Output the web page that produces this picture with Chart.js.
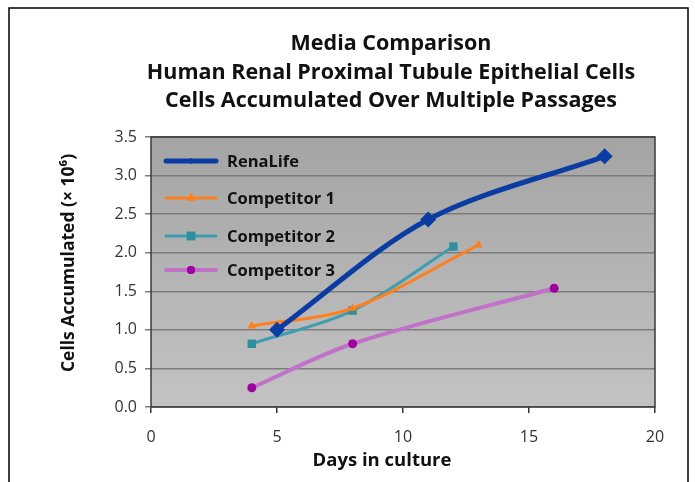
<!DOCTYPE html>
<html>
<head>
<meta charset="utf-8">
<script src="https://cdn.jsdelivr.net/npm/chart.js@4.4.1/dist/chart.umd.min.js"></script>
<style>
  html, body { margin: 0; padding: 0; background: #fff; }
  #wrap { width: 695px; height: 482px; position: relative; }
</style>
</head>
<body>
<div id="wrap"><canvas id="chart" width="695" height="482"></canvas></div>
<script>
// values
const titleLines = ['Media Comparison', 'Human Renal Proximal Tubule Epithelial Cells', 'Cells Accumulated Over Multiple Passages'];
const seriesNames = ['RenaLife', 'Competitor 1', 'Competitor 2', 'Competitor 3'];
const renaDays = [5, 11, 18];
const renaCells = [1.0, 2.43, 3.25];
const comp1Days = [4, 8, 13];
const comp1Cells = [1.05, 1.28, 2.1];
const comp2Days = [4, 8, 12];
const comp2Cells = [0.82, 1.25, 2.08];
const comp3Days = [4, 8, 16];
const comp3Cells = [0.25, 0.82, 1.54];
const xTicks = [0, 5, 10, 15, 20];
const yTicks = [0, 0.5, 1, 1.5, 2, 2.5, 3, 3.5];

const FONT = '"Open Sans", "DejaVu Sans", sans-serif';

function pts(days, cells) {
    return days.map(function (d, i) { return { x: d, y: cells[i] }; });
}

// gradient plot background + frame + outer border
const plotFrame = {
    id: 'plotFrame',
    beforeDraw: function (chart) {
        const ctx = chart.ctx;
        const a = chart.chartArea;
        ctx.save();
        ctx.fillStyle = '#fff';
        ctx.fillRect(0, 0, chart.width, chart.height);
        ctx.strokeStyle = '#000';
        ctx.lineWidth = 1.5;
        ctx.beginPath();
        ctx.moveTo(9, 490);
        ctx.lineTo(9, 8);
        ctx.lineTo(688, 8);
        ctx.lineTo(688, 490);
        ctx.stroke();
        const g = ctx.createLinearGradient(0, a.top, 0, a.bottom);
        g.addColorStop(0, '#a4a4a4');
        g.addColorStop(1, '#c3c3c3');
        ctx.fillStyle = g;
        ctx.fillRect(a.left, a.top, a.right - a.left, a.bottom - a.top);
        ctx.restore();
    },
    afterDatasetsDraw: function (chart) {
        const ctx = chart.ctx;
        const a = chart.chartArea;
        ctx.save();
        ctx.strokeStyle = '#3a3a3a';
        ctx.lineWidth = 1.5;
        ctx.strokeRect(a.left, a.top, a.right - a.left, a.bottom - a.top);
        ctx.restore();
    }
};

// legend inside the plot, line + marker like the original
const innerLegend = {
    id: 'innerLegend',
    afterDraw: function (chart) {
        const ctx = chart.ctx;
        const rows = [161, 198, 236, 270];
        ctx.save();
        chart.data.datasets.forEach(function (ds, i) {
            const y = rows[i];
            ctx.strokeStyle = ds.borderColor;
            ctx.lineWidth = ds.borderWidth;
            ctx.lineCap = 'round';
            ctx.beginPath();
            ctx.moveTo(166, y);
            ctx.lineTo(216, y);
            ctx.stroke();
            ctx.fillStyle = ds.pointBackgroundColor;
            ctx.beginPath();
            Chart.helpers.drawPoint(ctx, {
                pointStyle: ds.pointStyle,
                radius: ds.legendRadius,
                borderWidth: 0
            }, 191, y);
            ctx.fill();
            ctx.fillStyle = '#111';
            ctx.font = 'bold 16.5px ' + FONT;
            ctx.textBaseline = 'middle';
            ctx.fillText(ds.label, 227, y + 1);
        });
        ctx.restore();
    }
};

// chart title and axis titles
const titles = {
    id: 'titles',
    afterDraw: function (chart) {
        const ctx = chart.ctx;
        ctx.save();
        ctx.fillStyle = '#111';
        ctx.textAlign = 'center';
        ctx.textBaseline = 'middle';
        ctx.font = 'bold 21.5px ' + FONT;
        const rows = [44, 73, 101];
        titleLines.forEach(function (t, i) { ctx.fillText(t, 391, rows[i]); });
        ctx.font = 'bold 18.5px ' + FONT;
        ctx.fillText('Days in culture', 382, 461);
        ctx.translate(69, 263);
        ctx.rotate(-Math.PI / 2);
        ctx.font = 'bold 17.5px ' + FONT;
        ctx.fillText('Cells Accumulated (× 10⁶)', 0, 0);
        ctx.restore();
    }
};

new Chart(document.getElementById('chart'), {
    type: 'line',
    data: {
        datasets: [{
            label: seriesNames[0],
            data: pts(renaDays, renaCells),
            borderColor: '#0b3ca3',
            borderWidth: 5,
            pointStyle: 'rectRot',
            pointRadius: 8,
            legendRadius: 3,
            pointBackgroundColor: '#0b3ca3',
            pointBorderWidth: 0
        }, {
            label: seriesNames[1],
            data: pts(comp1Days, comp1Cells),
            borderColor: '#ff7f1e',
            borderWidth: 3,
            pointStyle: 'triangle',
            pointRadius: 5,
            legendRadius: 5,
            pointBackgroundColor: '#ff7f1e',
            pointBorderWidth: 0
        }, {
            label: seriesNames[2],
            data: pts(comp2Days, comp2Cells),
            borderColor: '#3e9db0',
            borderWidth: 3,
            pointStyle: 'rect',
            pointRadius: 6,
            legendRadius: 6,
            pointBackgroundColor: '#2f8f9f',
            pointBorderWidth: 0
        }, {
            label: seriesNames[3],
            data: pts(comp3Days, comp3Cells),
            borderColor: '#c271c8',
            borderWidth: 4,
            pointStyle: 'circle',
            pointRadius: 4.5,
            legendRadius: 4,
            pointBackgroundColor: '#a000a0',
            pointBorderWidth: 0
        }]
    },
    options: {
        responsive: false,
        animation: false,
        devicePixelRatio: 1,
        elements: { line: { tension: 0.32 } },
        layout: { padding: { left: 0, right: 40, top: 137, bottom: 0 } },
        plugins: {
            legend: { display: false },
            tooltip: { enabled: false },
            title: { display: false }
        },
        scales: {
            x: {
                type: 'linear',
                min: 0,
                max: 20,
                afterFit: function (scale) { scale.height = 75; },
                afterBuildTicks: function (scale) {
                    scale.ticks = xTicks.map(function (v) { return { value: v }; });
                },
                grid: { drawOnChartArea: false, drawTicks: true, tickLength: 6, color: '#333', lineWidth: 1.5 },
                border: { display: false },
                ticks: { color: '#333', padding: 15, font: { family: FONT, size: 16 } }
            },
            y: {
                min: 0,
                max: 3.5,
                afterFit: function (scale) { scale.width = 151; },
                afterBuildTicks: function (scale) {
                    scale.ticks = yTicks.map(function (v) { return { value: v }; });
                },
                grid: { color: '#7c7c7c', lineWidth: 1.5, drawTicks: true, tickLength: 6 },
                border: { display: false },
                ticks: {
                    color: '#333',
                    padding: 8,
                    font: { family: FONT, size: 16 },
                    callback: function (v) { return v.toFixed(1); }
                }
            }
        }
    },
    plugins: [plotFrame, innerLegend, titles]
});
</script>
</body>
</html>
